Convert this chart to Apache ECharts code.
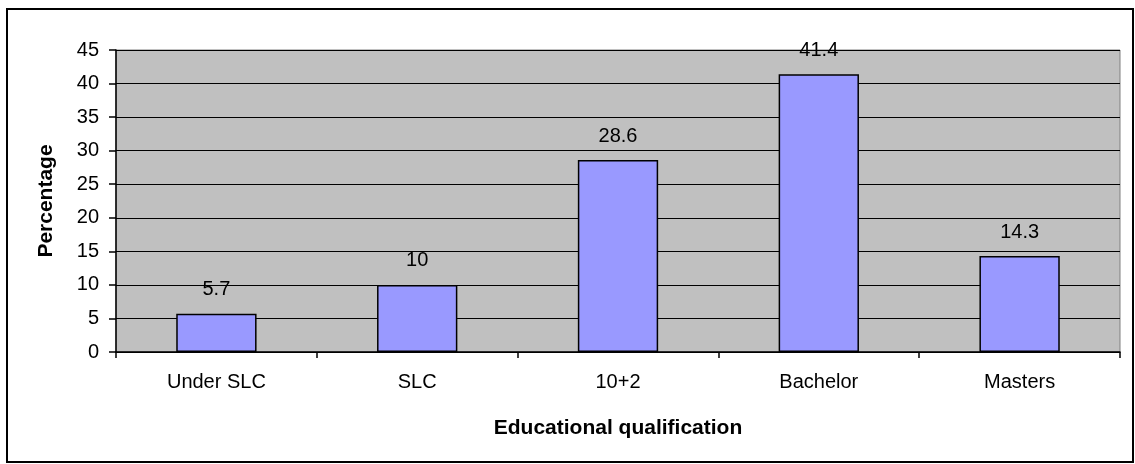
<!DOCTYPE html>
<html>
<head>
<meta charset="utf-8">
<script src="https://cdn.jsdelivr.net/npm/echarts@6/dist/echarts.min.js"></script>
<style>
  html, body { margin: 0; padding: 0; background: #fff; }
  #chart { width: 1135px; height: 464px; }
</style>
</head>
<body>
<div id="chart"></div>
<script>
// Share of respondents by educational qualification (%)
const categories = ['Under SLC', 'SLC', '10+2', 'Bachelor', 'Masters'];
const percentages = [5.7, 10, 28.6, 41.4, 14.3];
const yTicks = { min: 0, max: 45, step: 5 };

const chart = echarts.init(document.getElementById('chart'), null, { renderer: 'canvas' });

const font = '"Liberation Sans", Arial, sans-serif';

chart.setOption({
  animation: false,
  backgroundColor: '#ffffff',
  graphic: [{
    type: 'rect',
    shape: { x: 7, y: 9, width: 1126, height: 453 },
    style: { fill: 'none', stroke: '#000', lineWidth: 2 },
    z: 100
  }],
  grid: {
    left: 116, right: 15, top: 50, bottom: 112,
    show: true,
    backgroundColor: '#C0C0C0',
    borderColor: '#808080',
    borderWidth: 1
  },
  xAxis: {
    type: 'category',
    data: categories,
    name: 'Educational qualification',
    nameLocation: 'middle',
    nameGap: 66,
    nameTextStyle: { fontFamily: font, fontSize: 21, fontWeight: 'bold', color: '#000' },
    axisLine: { lineStyle: { color: '#000', width: 1.5 } },
    axisTick: { show: true, length: 6, lineStyle: { color: '#000', width: 1.5 } },
    axisLabel: { fontFamily: font, fontSize: 20, color: '#000', margin: 20 },
    splitLine: { show: false }
  },
  yAxis: {
    type: 'value',
    min: yTicks.min, max: yTicks.max, interval: yTicks.step,
    name: 'Percentage',
    nameLocation: 'middle',
    nameGap: 59,
    nameTextStyle: { fontFamily: font, fontSize: 21, fontWeight: 'bold', color: '#000' },
    axisLine: { show: true, lineStyle: { color: '#000', width: 1.5 } },
    axisTick: { show: true, length: 7, lineStyle: { color: '#000', width: 1.5 } },
    axisLabel: { fontFamily: font, fontSize: 20, color: '#000', margin: 17 },
    splitLine: { show: true, lineStyle: { color: '#000', width: 1.2 } }
  },
  series: [{
    type: 'bar',
    data: percentages,
    barWidth: '40%',
    itemStyle: { color: '#9999FF', borderColor: '#000', borderWidth: 1.5 },
    label: {
      show: true,
      position: 'top',
      distance: 14,
      fontFamily: font,
      fontSize: 20,
      color: '#000'
    }
  }]
});
</script>
</body>
</html>
